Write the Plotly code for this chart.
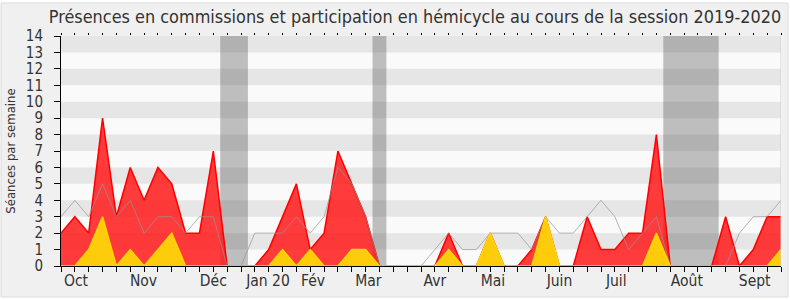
import plotly.graph_objects as go

weeks = list(range(53))
presence_commission = [2,3,2,9,3,6,4,6,5,2,2,7,0,0,0,1,3,5,1,2,7,5,3,0,0,0,0,0,2,0,0,2,0,0,1,3,0,0,3,1,1,2,2,8,0,0,0,0,3,0,1,3,3]
participation_hemicycle = [0,0,1,3,0,1,0,1,2,0,0,0,0,0,0,0,1,0,1,0,0,1,1,0,0,0,0,0,1,0,0,2,0,0,0,3,0,0,0,0,0,0,0,2,0,0,0,0,0,0,0,0,1]
mediane = [3,4,3,5,3,4,2,3,3,2,3,3,0,0,2,2,2,3,2,3,6,5,3,0,0,0,0,1,2,1,1,2,2,2,1,3,2,2,3,4,3,1,2,3,0,0,0,0,0,2,3,3,4]
month_labels = ["Oct","Nov","Déc","Jan 20","Fév","Mar","Avr","Mai","Juin","Juil","Août","Sept"]
month_pos = [1.08,5.96,11.0,14.95,18.2,22.2,27.0,31.2,36.0,40.1,45.2,50.1]
vacances = [(11.5,13.5),(22.5,23.5),(43.5,47.5)]
y_ticks = list(range(15))

FONT = "DejaVu Sans Condensed, DejaVu Sans"
W, H = 790, 300
L, R, T, B = 61, 9, 36, 34

fig = go.Figure()
fig.add_trace(go.Scatter(x=weeks, y=presence_commission, mode="lines", fill="tozeroy",
                         line=dict(color="#ff0000", width=1.5), fillcolor="rgba(255,25,25,0.85)",
                         hoverinfo="skip", showlegend=False))
fig.add_trace(go.Scatter(x=weeks, y=mediane, mode="lines",
                         line=dict(color="rgba(150,150,150,0.7)", width=1),
                         hoverinfo="skip", showlegend=False))
fig.add_trace(go.Scatter(x=weeks, y=participation_hemicycle, mode="lines", fill="tozeroy",
                         line=dict(color="#ffd700", width=1.5), fillcolor="rgba(255,212,10,0.95)",
                         hoverinfo="skip", showlegend=False))
fig.add_trace(go.Scatter(x=weeks, y=[None]*len(weeks), xaxis="x2", mode="lines",
                         hoverinfo="skip", showlegend=False))

pw = W - L - R
ph = H - T - B
shapes = []
shapes.append(dict(type="rect", xref="paper", yref="paper",
                   x0=(1 - L) / pw, x1=(788 - L) / pw, y0=-(297 - T - ph) / ph, y1=(H - T - 1) / ph,
                   fillcolor="#f0f0f0", line=dict(color="#dcdcdc", width=1), layer="below"))
shapes.append(dict(type="rect", xref="x", yref="y", x0=0, x1=52, y0=0, y1=14,
                   fillcolor="#fafafa", line=dict(width=0), layer="below"))
for k in range(1, 14, 2):
    shapes.append(dict(type="rect", xref="x", yref="y", x0=0, x1=52, y0=k, y1=k + 1,
                       fillcolor="#e6e6e6", line=dict(width=0), layer="below"))
for a, b in vacances:
    shapes.append(dict(type="rect", xref="x", yref="y", x0=a, x1=b, y0=0, y1=14,
                       fillcolor="rgba(70,70,70,0.33)", line=dict(width=0), layer="below"))
shapes.append(dict(type="line", xref="x", yref="y", x0=52, x1=52, y0=0, y1=14,
                   line=dict(color="#cccccc", width=1), layer="above"))

fig.update_layout(
    width=W, height=H,
    margin=dict(l=L, r=R, t=T, b=B),
    paper_bgcolor="white", plot_bgcolor="rgba(0,0,0,0)",
    font=dict(family=FONT, color="#333333", size=14),
    title=dict(text="Présences en commissions et participation en hémicycle au cours de la session 2019-2020",
               x=(415 - L) / pw, xref="paper", xanchor="center", y=1 - 17 / H, yanchor="middle",
               font=dict(family=FONT, size=17.9, color="#333333")),
    shapes=shapes,
    xaxis=dict(range=[0, 52], tickmode="array", tickvals=month_pos, ticktext=month_labels,
               ticks="", showgrid=False, zeroline=False, showline=True, linecolor="#000000", linewidth=1,
               tickfont=dict(family=FONT, size=15.5, color="#333333"),
               minor=dict(tickmode="array", tickvals=weeks, ticks="outside", ticklen=5,
                          tickcolor="#000000", tickwidth=1, showgrid=False)),
    xaxis2=dict(range=[0, 52], overlaying="x", side="top", tickmode="array", tickvals=weeks,
                ticks="outside", ticklen=2, tickcolor="#000000", showticklabels=False,
                showgrid=False, zeroline=False, showline=False),
    yaxis=dict(range=[0, 14], tickmode="array", tickvals=y_ticks, ticks="outside", ticklen=6,
               tickcolor="#000000", showgrid=False, zeroline=False, showline=True,
               linecolor="#000000", linewidth=1, ticklabelstandoff=8,
               tickfont=dict(family=FONT, size=15, color="#333333"),
               title=dict(text="Séances par semaine", standoff=7,
                          font=dict(family=FONT, size=13, color="#333333"))),
)

fig.write_html("out.html")
